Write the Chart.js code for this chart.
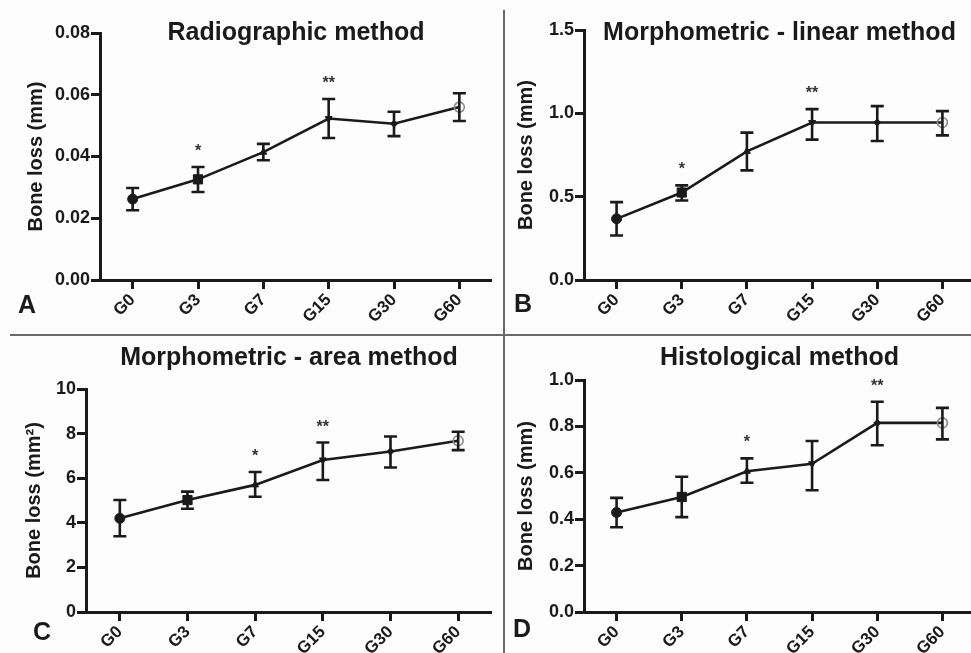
<!DOCTYPE html>
<html><head><meta charset="utf-8">
<script src="https://cdn.jsdelivr.net/npm/chart.js@4.4.1/dist/chart.umd.min.js"></script>
<style>
html,body{margin:0;padding:0;background:#fdfdfd;overflow:hidden;width:971px;height:653px;}
canvas{position:absolute;}
.sep{position:absolute;background:#6a6a6a;}
.lbl{position:absolute;font:bold 25px "Liberation Sans",Arial,sans-serif;color:#1a1a1a;transform:translate(-50%,-50%);}
</style></head><body>
<div class="sep" style="left:503px;top:10px;width:2px;height:643px"></div>
<div class="sep" style="left:10px;top:334px;width:961px;height:2px"></div>
<canvas id="cA" width="492" height="334" style="left:0;top:0"></canvas>
<canvas id="cB" width="470" height="334" style="left:505px;top:0"></canvas>
<canvas id="cC" width="492" height="317" style="left:0;top:336px"></canvas>
<canvas id="cD" width="470" height="317" style="left:505px;top:336px"></canvas>
<div class="lbl" style="left:27px;top:304px">A</div>
<div class="lbl" style="left:523px;top:303px">B</div>
<div class="lbl" style="left:42px;top:631px">C</div>
<div class="lbl" style="left:522px;top:628px">D</div>
<script>
const categories = ['G0','G3','G7','G15','G30','G60'];

const titleA = 'Radiographic method';
const meanA = [0.0262, 0.0326, 0.0414, 0.0523, 0.0506, 0.0560];
const lowA  = [0.0226, 0.0285, 0.0388, 0.0460, 0.0466, 0.0515];
const highA = [0.0298, 0.0366, 0.0441, 0.0586, 0.0545, 0.0605];
const starsA = ['', '*', '', '**', '', ''];
const yTicksA = ['0.00','0.02','0.04','0.06','0.08'];

const titleB = 'Morphometric - linear method';
const meanB = [0.367, 0.525, 0.772, 0.945, 0.945, 0.945];
const lowB  = [0.267, 0.477, 0.658, 0.842, 0.834, 0.868];
const highB = [0.467, 0.568, 0.884, 1.025, 1.043, 1.013];
const starsB = ['', '*', '', '**', '', ''];
const yTicksB = ['0.0','0.5','1.0','1.5'];

const titleC = 'Morphometric - area method';
const meanC = [4.20, 5.02, 5.70, 6.82, 7.20, 7.68];
const lowC  = [3.40, 4.63, 5.17, 5.92, 6.48, 7.26];
const highC = [5.02, 5.40, 6.28, 7.60, 7.87, 8.08];
const starsC = ['', '', '*', '**', '', ''];
const yTicksC = ['0','2','4','6','8','10'];

const titleD = 'Histological method';
const meanD = [0.429, 0.496, 0.607, 0.639, 0.815, 0.815];
const lowD  = [0.365, 0.409, 0.557, 0.525, 0.719, 0.744];
const highD = [0.492, 0.583, 0.662, 0.737, 0.906, 0.880];
const starsD = ['', '', '*', '', '**', ''];
const yTicksD = ['0.0','0.2','0.4','0.6','0.8','1.0'];

const INK = '#1a1a1a';
const FONT = '"Liberation Sans", Arial, sans-serif';
Chart.defaults.font.family = FONT;
Chart.defaults.color = INK;

const panelPlugin = {
  id: 'panel',
  afterDatasetsDraw(chart, args, opts) {
    const {ctx, chartArea} = chart;
    const x = chart.scales.x, y = chart.scales.y;
    ctx.save();
    ctx.strokeStyle = INK;
    ctx.lineWidth = 2.6;
    ctx.lineCap = 'butt';
    opts.low.forEach((lo, i) => {
      const px = x.getPixelForValue(i);
      const yl = y.getPixelForValue(lo);
      const yh = y.getPixelForValue(opts.high[i]);
      ctx.beginPath();
      ctx.moveTo(px, yl); ctx.lineTo(px, yh);
      ctx.moveTo(px - 6.5, yl); ctx.lineTo(px + 6.5, yl);
      ctx.moveTo(px - 6.5, yh); ctx.lineTo(px + 6.5, yh);
      ctx.stroke();
      if (opts.stars[i]) {
        ctx.font = 'bold 16px ' + FONT;
        ctx.fillStyle = '#333';
        ctx.textAlign = 'center';
        ctx.textBaseline = 'alphabetic';
        ctx.fillText(opts.stars[i], px, yh - 11);
      }
    });
    ctx.font = 'bold 25px ' + FONT;
    ctx.fillStyle = INK;
    ctx.textAlign = 'center';
    ctx.textBaseline = 'middle';
    ctx.fillText(opts.title, (chartArea.left + chartArea.right) / 2, opts.titleY);
    ctx.restore();
  }
};

function makePanel(id, title, mean, low, high, stars, yTicks, yMax, yStep, yTitle, lay) {
  new Chart(document.getElementById(id), {
    type: 'line',
    data: {
      labels: categories,
      datasets: [{
        data: mean,
        borderColor: INK,
        borderWidth: 2.6,
        tension: 0,
        pointStyle: ['circle','rect','triangle','triangle','rectRot','circle'],
        pointRotation: [0,0,0,180,0,0],
        pointRadius: [5,6.5,4,4,3.5,5],
        pointBackgroundColor: [INK,INK,INK,INK,INK,'rgba(0,0,0,0)'],
        pointBorderColor: [INK,INK,INK,INK,INK,'#8a8a8a'],
        pointBorderWidth: [1,1,1,1,1,1.6]
      }]
    },
    options: {
      responsive: false,
      animation: false,
      devicePixelRatio: 1,
      layout: { autoPadding: false, padding: { left: 0, right: 0, top: lay.top, bottom: 0 } },
      plugins: {
        legend: { display: false },
        tooltip: { enabled: false },
        panel: { title: title, titleY: lay.titleY, low: low, high: high, stars: stars }
      },
      scales: {
        x: {
          type: 'category',
          offset: true,
          grid: { drawOnChartArea: false, drawTicks: true, tickLength: 9, lineWidth: 3, color: INK },
          border: { display: true, width: 3, color: INK },
          ticks: { autoSkip: false, minRotation: 45, maxRotation: 45, padding: 1,
                   font: { size: 17, weight: 'bold' }, color: INK },
          afterFit(s) { s.height = lay.xh; s.paddingLeft = 0; s.paddingRight = 0; }
        },
        y: {
          min: 0, max: yMax,
          grid: { drawOnChartArea: false, drawTicks: true, tickLength: 9, lineWidth: 3, color: INK },
          border: { display: true, width: 3, color: INK },
          ticks: { stepSize: yStep, padding: 1, font: { size: 18, weight: 'bold' }, color: INK,
                   callback: (v, i) => yTicks[i] },
          title: { display: true, text: yTitle, font: { size: 20, weight: 'bold' }, color: INK,
                   padding: { top: lay.tp, bottom: 0 } },
          afterFit(s) { s.width = lay.left; }
        }
      }
    },
    plugins: [panelPlugin]
  });
}

makePanel('cA', titleA, meanA, lowA, highA, starsA, yTicksA, 0.08, 0.02, 'Bone loss (mm)',
  { top: 33, xh: 54, left: 100, titleY: 33, tp: 24 });
makePanel('cB', titleB, meanB, lowB, highB, starsB, yTicksB, 1.5, 0.5, 'Bone loss (mm)',
  { top: 30, xh: 54, left: 79, titleY: 33, tp: 9 });
makePanel('cC', titleC, meanC, lowC, highC, starsC, yTicksC, 10, 2, 'Bone loss (mm\u00B2)',
  { top: 53, xh: 41, left: 86, titleY: 22, tp: 22 });
makePanel('cD', titleD, meanD, lowD, highD, starsD, yTicksD, 1.0, 0.2, 'Bone loss (mm)',
  { top: 44, xh: 41, left: 79, titleY: 22, tp: 9 });
</script>
</body></html>
